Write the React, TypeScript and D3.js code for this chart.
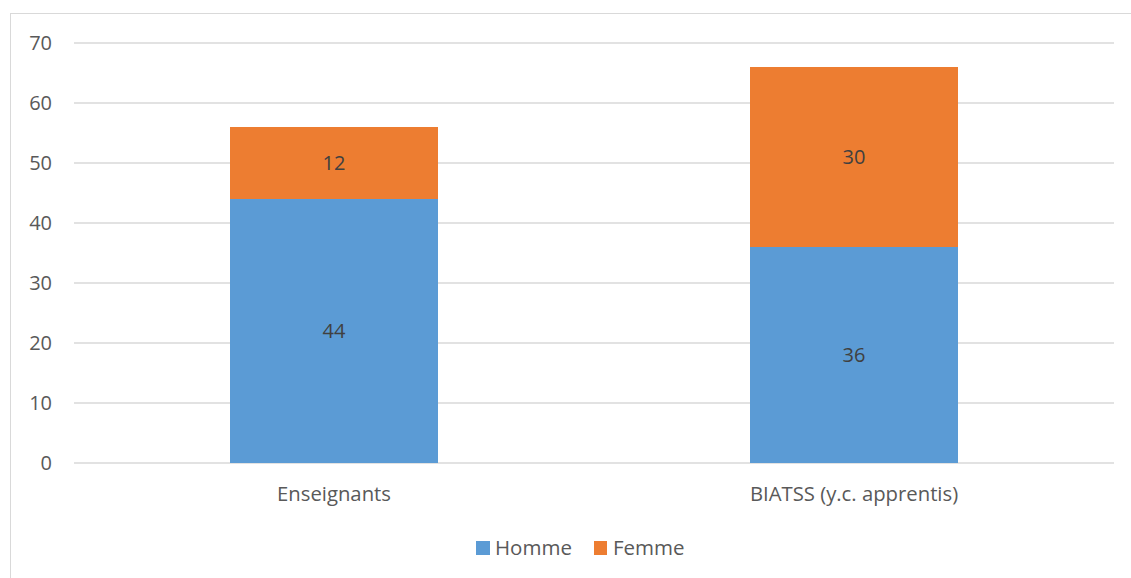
import React from "react";
import * as d3 from "d3";

const categories = ["Enseignants", "BIATSS (y.c. apprentis)"];
const seriesNames = ["Homme", "Femme"];
const homme = [44, 36];
const femme = [12, 30];
const colors = ["#5B9BD5", "#ED7D31"];
const yTicks = [0, 10, 20, 30, 40, 50, 60, 70];

export default function App() {
  const W = 1131, H = 578;
  const left = 74, right = 1114, top = 43, bottom = 463;
  const x = d3.scaleBand<string>().domain(categories).range([left, right]).paddingInner(0.6).paddingOuter(0.3);
  const y = d3.scaleLinear().domain([0, 70]).range([bottom, top]);
  const stackData = categories.map((c, i) => ({ cat: c, Homme: homme[i], Femme: femme[i] }));
  const stacked = d3.stack<any>().keys(seriesNames)(stackData);
  const font = "'Open Sans', 'Liberation Sans', sans-serif";
  return (
    <svg width={W} height={H} style={{ position: "absolute", left: 0, top: 0, background: "#fff" }} fontFamily={font}>
      <rect x={10.5} y={13.5} width={1130} height={600} fill="#fff" stroke="#D9D9D9" strokeWidth={1} />
      {yTicks.map((t) => (
        <g key={t}>
          <line x1={left} x2={right} y1={y(t)} y2={y(t)} stroke="#D9D9D9" strokeWidth={1.5} />
          <text x={52} y={y(t)} dy="0.35em" textAnchor="end" fontSize={20} fill="#595959">{t}</text>
        </g>
      ))}
      {stacked.map((s, si) => (
        <g key={s.key}>
          {s.map((d, i) => (
            <g key={i}>
              <rect x={x(categories[i])!} width={x.bandwidth()} y={y(d[1])} height={y(d[0]) - y(d[1])} fill={colors[si]} />
              <text x={x(categories[i])! + x.bandwidth() / 2} y={(y(d[0]) + y(d[1])) / 2} dy="0.35em" textAnchor="middle" fontSize={20} fill="#404040">
                {d[1] - d[0]}
              </text>
            </g>
          ))}
        </g>
      ))}
      {categories.map((c) => (
        <text key={c} x={x(c)! + x.bandwidth() / 2} y={494} dy="0.35em" textAnchor="middle" fontSize={20.3} fill="#595959">{c}</text>
      ))}
      <g>
        <rect x={476} y={541} width={14} height={14} fill={colors[0]} />
        <text x={495} y={548} dy="0.35em" fontSize={20.5} fill="#595959">{seriesNames[0]}</text>
        <rect x={594} y={541} width={13} height={14} fill={colors[1]} />
        <text x={613} y={548} dy="0.35em" fontSize={20.5} fill="#595959">{seriesNames[1]}</text>
      </g>
    </svg>
  );
}
